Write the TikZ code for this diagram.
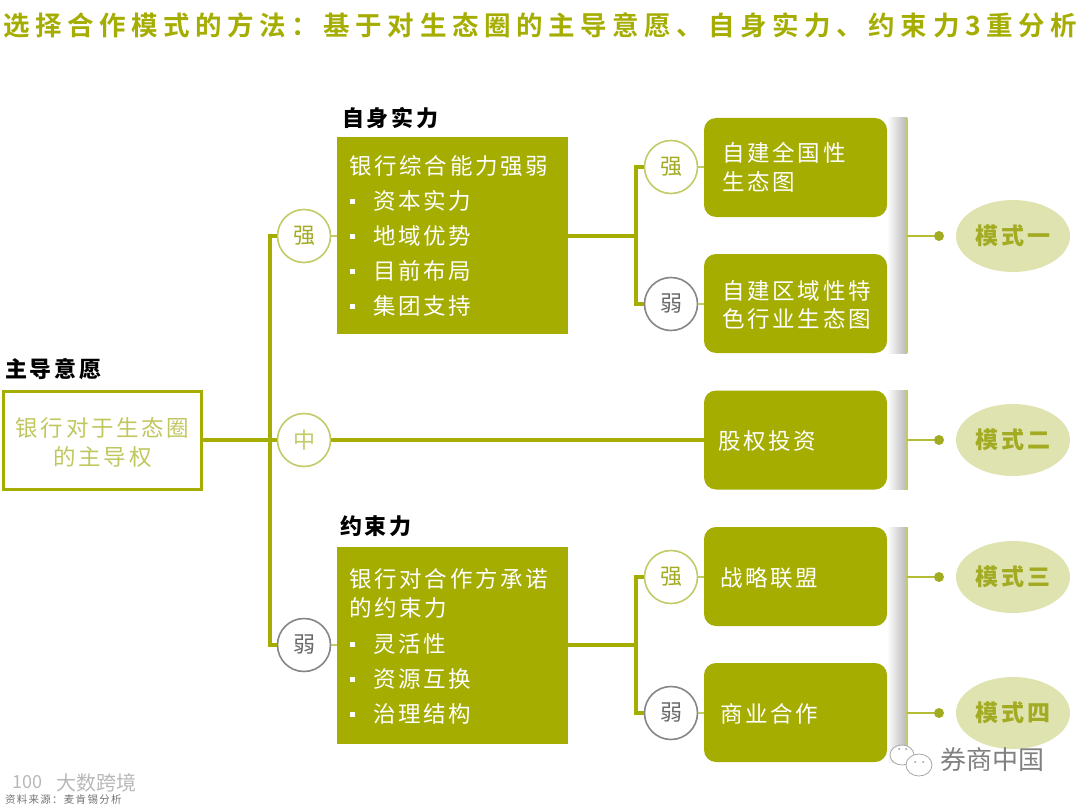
\documentclass[tikz,border=0pt]{standalone}
\usepackage{fontspec}
\setmainfont{Noto Sans CJK SC}
\newfontfamily\titlefont[LetterSpace=21,BoldFont={Noto Sans CJK SC Bold}]{Noto Sans CJK SC}
\newfontfamily\boxfont[LetterSpace=12]{Noto Sans CJK SC}
\usetikzlibrary{shapes.geometric}

\definecolor{olive}{HTML}{A4AD00}
\definecolor{palegreen}{HTML}{C3CA68}
\definecolor{paleleaf}{HTML}{DFE3B0}
\definecolor{leaftext}{HTML}{A2AB22}
\definecolor{ringgrey}{HTML}{85858A}

\newcommand*{\barleft}{887}
\newcommand*{\dotx}{939}
\newcommand*{\modex}{1013}

\begin{document}
\begin{tikzpicture}
[
	x=1pt,
	y=-1pt,
	heading/.style={anchor=west,inner sep=0pt,font=\boxfont\fontsize{22}{26}\selectfont\bfseries},
	bigbox/.style={rectangle,fill=olive,minimum width=231pt,minimum height=197pt,inner sep=0pt},
	leafbox/.style={rectangle,rounded corners=12pt,fill=olive,minimum width=183pt,minimum height=99pt,inner sep=0pt},
	boxtext/.style={anchor=west,inner sep=0pt,text=white,font=\boxfont\fontsize{22.5}{29}\selectfont},
	bulletpt/.style={rectangle,fill=white,inner sep=0pt,minimum size=5pt},
	ringhigh/.style={circle,draw=palegreen,line width=1.6pt,fill=white,minimum size=53pt,inner sep=0pt,text=leaftext,font=\boxfont\fontsize{22}{26}\selectfont},
	ringlow/.style={ringhigh,draw=ringgrey,text=ringgrey!80!black},
	branch/.style={olive,line width=3.5pt},
	thinbranch/.style={olive!80,line width=2pt},
	modebar/.style={rectangle,left color=white,right color=black!28,minimum width=20pt,inner sep=0pt},
	edgeline/.style={palegreen,line width=2pt},
	closedpt/.style={circle,fill=leaftext,inner sep=0pt,minimum size=10pt},
	modenode/.style={ellipse,fill=paleleaf,minimum width=114pt,minimum height=72pt,inner sep=0pt,text=leaftext,font=\boxfont\fontsize{23}{26}\selectfont\bfseries}
]
	\useasboundingbox (0,0) rectangle (1080,808);

	% title
	\node[anchor=west,inner sep=0pt,text=olive,font=\titlefont\fontsize{26.5}{30}\selectfont\bfseries] (title) at (3,25) {选择合作模式的方法：基于对生态圈的主导意愿、自身实力、约束力3重分析};

	% left box
	\node[heading] (willhead) at (5,369) {主导意愿};
	\node[rectangle,draw=olive,line width=3pt,minimum width=198pt,minimum height=98pt,inner sep=0pt] (will) at (102.5,440) {};
	\node[inner sep=0pt,align=center,text=palegreen!90!olive,font=\boxfont\fontsize{22.5}{29}\selectfont] (willtext) at (102.5,442) {银行对于生态圈\\的主导权};

	% first level
	\coordinate (trunk) at (270,440);
	\node[ringhigh] (high) at (304,236) {强};
	\node[ringhigh,text=palegreen] (mid) at (304,440) {中};
	\node[ringlow] (low) at (304,645) {弱};
	\draw[branch] (high) -| (trunk) |- (low);
	\draw[branch] (will) -- (mid);

	% strength box
	\node[heading] (powerhead) at (342,118) {自身实力};
	\node[bigbox] (power) at (452.5,235) {};
	\node[boxtext] (powertop) at (349,166) {银行综合能力强弱};
	\foreach \y/\t in {201/资本实力,236/地域优势,271/目前布局,306/集团支持}
	{
		\node[bulletpt] (pb\y) at (352,\y) {};
		\node[boxtext] (pt\y) at (373,\y) {\t};
	}

	% binding box
	\node[heading] (bindhead) at (340,526) {约束力};
	\node[bigbox] (bind) at (452.5,645.5) {};
	\node[boxtext] (bindtopa) at (349,579) {银行对合作方承诺};
	\node[boxtext] (bindtopb) at (349,608) {的约束力};
	\foreach \y/\t in {644/灵活性,679/资源互换,714/治理结构}
	{
		\node[bulletpt] (bb\y) at (352,\y) {};
		\node[boxtext] (bt\y) at (373,\y) {\t};
	}
	\draw[edgeline] (high) -- (power.west |- high);
	\draw[edgeline] (low) -- (bind.west |- low);

	% second level
	\coordinate (forka) at (636,236);
	\coordinate (forkb) at (636,645);
	\node[ringhigh] (higha) at (671,167) {强};
	\node[ringlow] (lowa) at (671,304) {弱};
	\node[ringhigh] (highb) at (671,577) {强};
	\node[ringlow] (lowb) at (671,713) {弱};
	\draw[branch] (higha) -| (forka) |- (lowa);
	\draw[branch] (highb) -| (forkb) |- (lowb);
	\draw[branch] (power.east |- forka) -- (forka);
	\draw[branch] (bind.east |- forkb) -- (forkb);

	% bars behind the right boxes
	\node[modebar,minimum height=235pt] (bara) at (897,235.5) {};
	\node[modebar,minimum height=99pt] (barb) at (897,440) {};
	\node[modebar,minimum height=235pt] (barc) at (897,644.5) {};
	\foreach \b in {bara,barb,barc}
		\draw[edgeline] (\b.north east) -- (\b.south east);

	% right boxes
	\node[leafbox] (alla) at (795.5,167.5) {};
	\node[boxtext] (allat) at (722,153) {自建全国性};
	\node[boxtext] (allab) at (722,182) {生态图};
	\node[leafbox] (regiona) at (795.5,303.5) {};
	\node[boxtext] (regionat) at (722,291) {自建区域性特};
	\node[boxtext] (regionab) at (722,319) {色行业生态图};
	\node[leafbox] (equity) at (795.5,440) {};
	\node[boxtext] (equityt) at (718,441) {股权投资};
	\node[leafbox] (league) at (795.5,576.5) {};
	\node[boxtext] (leaguet) at (720,578) {战略联盟};
	\node[leafbox] (trade) at (795.5,712.5) {};
	\node[boxtext] (tradet) at (720,714) {商业合作};
	\draw[edgeline] (higha) -- (alla.west |- higha);
	\draw[edgeline] (lowa) -- (regiona.west |- lowa);
	\draw[edgeline] (highb) -- (league.west |- highb);
	\draw[edgeline] (lowb) -- (trade.west |- lowb);
	\draw[branch] (mid) -- (equity);

	% modes
	\node[closedpt] (dota) at (\dotx,236) {};
	\node[closedpt] (dotb) at (\dotx,440) {};
	\node[closedpt] (dotc) at (\dotx,577) {};
	\node[closedpt] (dotd) at (\dotx,713) {};
	\node[modenode] (modea) at (\modex,236) {模式一};
	\node[modenode] (modeb) at (\modex,440) {模式二};
	\node[modenode] (modec) at (\modex,577) {模式三};
	\node[modenode] (moded) at (\modex,713) {模式四};
	\draw[thinbranch] (bara.east |- dota) -- (dota);
	\draw[thinbranch] (barb.east |- dotb) -- (dotb);
	\draw[thinbranch] (barc.east |- dotc) -- (dotc);
	\draw[thinbranch] (barc.east |- dotd) -- (dotd);

	% watermarks
	\draw[black!35,fill=white,line width=0.8pt] (902,755) ellipse (12 and 10);
	\draw[black!35,fill=white,line width=0.8pt] (919,765) ellipse (13 and 11);
	\fill[black!40] (899,749) circle (1) (906,749) circle (1) (915,762) circle (1) (923,762) circle (1);
	\node[anchor=west,inner sep=0pt,text=black!50,font=\fontsize{26}{28}\selectfont] (brand) at (940,760) {券商中国};
	\node[anchor=west,inner sep=0pt,text=black!28,font=\fontsize{20}{24}\selectfont] (sitename) at (56,783) {大数跨境};
	\node[anchor=west,inner sep=0pt,text=black!28,font=\fontsize{18}{20}\selectfont] (sitelogo) at (12,782) {100};
	\node[anchor=west,inner sep=0pt,text=black!55,font=\boxfont\fontsize{10.5}{11}\selectfont] (source) at (5,800) {资料来源：麦肯锡分析};

\end{tikzpicture}
\end{document}
